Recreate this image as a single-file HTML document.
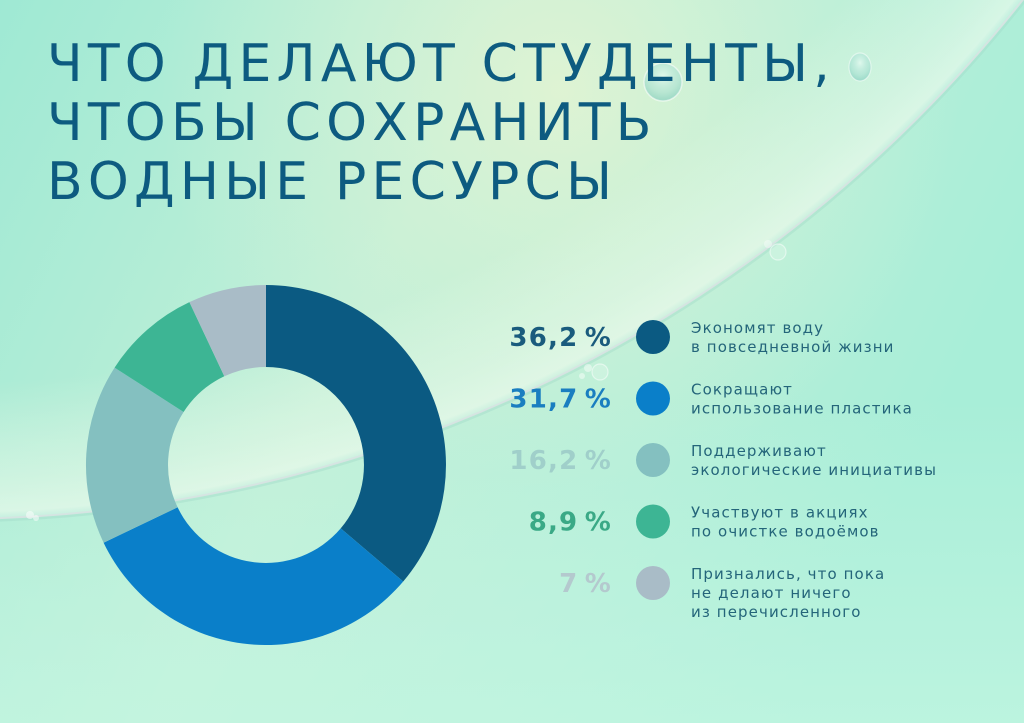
<!DOCTYPE html>
<html>
<head>
<meta charset="utf-8">
<style>
html,body{margin:0;padding:0;width:1024px;height:723px;overflow:hidden;background:#b5efda;}
svg{display:block;}
</style>
</head>
<body>
<svg width="1024" height="723" viewBox="0 0 1024 723" xmlns="http://www.w3.org/2000/svg">
<defs>
  <linearGradient id="bg" x1="0" y1="0" x2="1" y2="0.35">
    <stop offset="0" stop-color="#9fe9d4"/>
    <stop offset="0.45" stop-color="#c2f0d8"/>
    <stop offset="0.75" stop-color="#b6efd9"/>
    <stop offset="1" stop-color="#a8eed8"/>
  </linearGradient>
  <radialGradient id="warm" gradientUnits="userSpaceOnUse" cx="560" cy="90" r="400">
    <stop offset="0" stop-color="#e4f4d2" stop-opacity="0.85"/>
    <stop offset="0.6" stop-color="#daf2d4" stop-opacity="0.35"/>
    <stop offset="1" stop-color="#d8f2d6" stop-opacity="0"/>
  </radialGradient>
  <linearGradient id="bottom" x1="0" y1="0" x2="0" y2="1">
    <stop offset="0.55" stop-color="#c4f6e2" stop-opacity="0"/>
    <stop offset="1" stop-color="#c4f6e2" stop-opacity="0.7"/>
  </linearGradient>
  <radialGradient id="glow" gradientUnits="userSpaceOnUse" cx="-50" cy="-849" r="1368">
    <stop offset="0.9" stop-color="#f4fbe9" stop-opacity="0"/>
    <stop offset="0.97" stop-color="#eefaea" stop-opacity="0.45"/>
    <stop offset="0.995" stop-color="#f2fbee" stop-opacity="0.6"/>
    <stop offset="1" stop-color="#dff2ea" stop-opacity="0.4"/>
  </radialGradient>
  <radialGradient id="drop" cx="0.5" cy="0.35" r="0.6">
    <stop offset="0" stop-color="#e8fbf4" stop-opacity="0.7"/>
    <stop offset="0.7" stop-color="#9fdcd0" stop-opacity="0.5"/>
    <stop offset="1" stop-color="#7ccabd" stop-opacity="0.55"/>
  </radialGradient>
</defs>

<!-- background -->
<rect x="0" y="0" width="1024" height="723" fill="url(#bg)"/>
<rect x="0" y="0" width="1024" height="723" fill="url(#warm)"/>
<rect x="0" y="0" width="1024" height="723" fill="url(#bottom)"/>
<circle cx="-50" cy="-849" r="1368" fill="url(#glow)"/>
<circle cx="-50" cy="-849" r="1370" fill="none" stroke="#9fd9c8" stroke-opacity="0.4" stroke-width="3"/>
<circle cx="-50" cy="-849" r="1368" fill="none" stroke="#d6e4e1" stroke-opacity="0.95" stroke-width="2"/>

<!-- small bubbles -->
<circle cx="663" cy="82" r="19" fill="url(#drop)" stroke="#ffffff" stroke-opacity="0.55" stroke-width="1.5"/>
<ellipse cx="860" cy="67" rx="11" ry="14" fill="url(#drop)" stroke="#ffffff" stroke-opacity="0.5" stroke-width="1.2"/>
<circle cx="778" cy="252" r="8" fill="#ffffff" fill-opacity="0.2" stroke="#ffffff" stroke-opacity="0.5" stroke-width="1.2"/>
<circle cx="768" cy="244" r="4" fill="#ffffff" fill-opacity="0.4"/>
<circle cx="600" cy="372" r="8" fill="#ffffff" fill-opacity="0.2" stroke="#ffffff" stroke-opacity="0.5" stroke-width="1.2"/>
<circle cx="588" cy="368" r="4" fill="#ffffff" fill-opacity="0.45"/>
<circle cx="582" cy="376" r="3" fill="#ffffff" fill-opacity="0.45"/>
<circle cx="30" cy="515" r="4" fill="#ffffff" fill-opacity="0.5"/>
<circle cx="36" cy="518" r="3" fill="#ffffff" fill-opacity="0.5"/>

<!-- title -->
<g font-family="'DejaVu Sans','Liberation Sans','Noto Sans CJK SC',sans-serif" font-size="52" fill="#0d5b80" letter-spacing="5.2">
  <text x="47" y="81">ЧТО ДЕЛАЮТ СТУДЕНТЫ,</text>
  <text x="47" y="140">ЧТОБЫ СОХРАНИТЬ</text>
  <text x="47" y="199">ВОДНЫЕ РЕСУРСЫ</text>
</g>

<!-- donut -->
<g>
  <path d="M266,285 A180,180 0 0 1 403.2,581.5 L340.7,528.4 A98,98 0 0 0 266,367 Z" fill="#0b5a82"/>
  <path d="M403.2,581.5 A180,180 0 0 1 103.6,542.7 L177.6,507.3 A98,98 0 0 0 340.7,528.4 Z" fill="#0a7fc9"/>
  <path d="M103.6,542.7 A180,180 0 0 1 114.6,367.6 L183.6,412 A98,98 0 0 0 177.6,507.3 Z" fill="#84c0c0"/>
  <path d="M114.6,367.6 A180,180 0 0 1 189.4,302.1 L224.3,376.3 A98,98 0 0 0 183.6,412 Z" fill="#3db594"/>
  <path d="M189.4,302.1 A180,180 0 0 1 266,285 L266,367 A98,98 0 0 0 224.3,376.3 Z" fill="#a9bcc7"/>
</g>

<!-- legend percentages -->
<g font-family="'DejaVu Sans','Liberation Sans',sans-serif" font-size="26" font-weight="bold" text-anchor="end" letter-spacing="1.2">
  <text x="612" y="346" fill="#1a5b7d">36,2&#8201;%</text>
  <text x="612" y="407.5" fill="#1a7ec0">31,7&#8201;%</text>
  <text x="612" y="469" fill="#a0cfca">16,2&#8201;%</text>
  <text x="612" y="530.5" fill="#3aa986">8,9&#8201;%</text>
  <text x="612" y="592" fill="#b4c9ce">7&#8201;%</text>
</g>

<!-- legend circles -->
<circle cx="653" cy="337" r="17" fill="#0b5a82"/>
<circle cx="653" cy="398.5" r="17" fill="#0a7fc9"/>
<circle cx="653" cy="460" r="17" fill="#84c0c0"/>
<circle cx="653" cy="521.5" r="17" fill="#3db594"/>
<circle cx="653" cy="583" r="17" fill="#a9bcc7"/>

<!-- legend labels -->
<g font-family="'DejaVu Sans','Liberation Sans',sans-serif" font-size="15" fill="#24657a" letter-spacing="1.1">
  <text x="691" y="333">Экономят воду</text>
  <text x="691" y="352">в повседневной жизни</text>
  <text x="691" y="394.5">Сокращают</text>
  <text x="691" y="413.5">использование пластика</text>
  <text x="691" y="456">Поддерживают</text>
  <text x="691" y="475">экологические инициативы</text>
  <text x="691" y="517.5">Участвуют в акциях</text>
  <text x="691" y="536.5">по очистке водоёмов</text>
  <text x="691" y="579">Признались, что пока</text>
  <text x="691" y="598">не делают ничего</text>
  <text x="691" y="617">из перечисленного</text>
</g>
</svg>
</body>
</html>
